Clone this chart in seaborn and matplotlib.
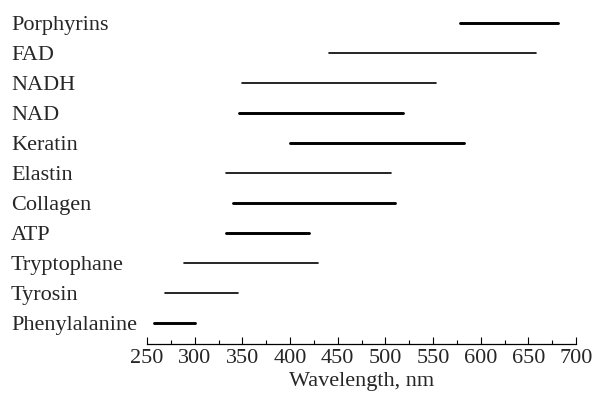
import matplotlib
matplotlib.use("Agg")
import matplotlib.pyplot as plt
import seaborn as sns
import pandas as pd
from matplotlib.ticker import MultipleLocator

# Data (bottom to top)
labels = ["Phenylalanine", "Tyrosin", "Tryptophane", "ATP", "Collagen", "Elastin",
          "Keratin", "NAD", "NADH", "FAD", "Porphyrins"]
starts = [257, 269, 289, 333, 340, 333, 400, 347, 350, 441, 578]
ends = [300, 345, 429, 420, 510, 506, 582, 519, 553, 658, 681]
weights = ["thick", "thin", "thin", "thick", "thick", "thin",
           "thick", "thick", "thin", "thin", "thick"]
xticks = [250, 300, 350, 400, 450, 500, 550, 600, 650, 700]

rows = []
for i, (lab, s, e, w) in enumerate(zip(labels, starts, ends, weights)):
    rows.append({"substance": lab, "wavelength": s, "pos": i, "weight": w})
    rows.append({"substance": lab, "wavelength": e, "pos": i, "weight": w})
df = pd.DataFrame(rows)

sns.set_style("white")
plt.rcParams["font.family"] = ["Liberation Serif", "DejaVu Serif"]

fig = plt.figure(figsize=(5.94, 4.03), dpi=100)
ax = fig.add_axes([147 / 594, 1 - 343.7 / 403, (576 - 147) / 594, 343.7 / 403])

sns.lineplot(data=df, x="wavelength", y="pos", units="substance", estimator=None,
             sort=False, size="weight", sizes={"thick": 2.1, "thin": 1.2},
             color="black", legend=False, ax=ax)

ax.set_xlim(250, 700)
ax.set_ylim(-0.69, 10.77)
ax.set_xticks(xticks)
ax.xaxis.set_minor_locator(MultipleLocator(25))
ax.set_xticklabels([str(t) for t in xticks], fontsize=16)
ax.set_yticks(range(len(labels)))
ax.set_yticklabels(labels, fontsize=16, ha="left")
ax.tick_params(axis="y", length=0, pad=98)
ax.tick_params(axis="x", which="major", direction="in", length=5, width=0.8,
               pad=4, color="black", bottom=True)
ax.tick_params(axis="x", which="minor", direction="in", length=3, width=0.8,
               color="black", bottom=True)
for side in ["top", "right", "left"]:
    ax.spines[side].set_visible(False)
ax.spines["bottom"].set_color("black")
ax.spines["bottom"].set_linewidth(0.9)
ax.set_xlabel("Wavelength, nm", fontsize=16, labelpad=3)
ax.set_ylabel("")

fig.savefig("out.png", dpi=100)
